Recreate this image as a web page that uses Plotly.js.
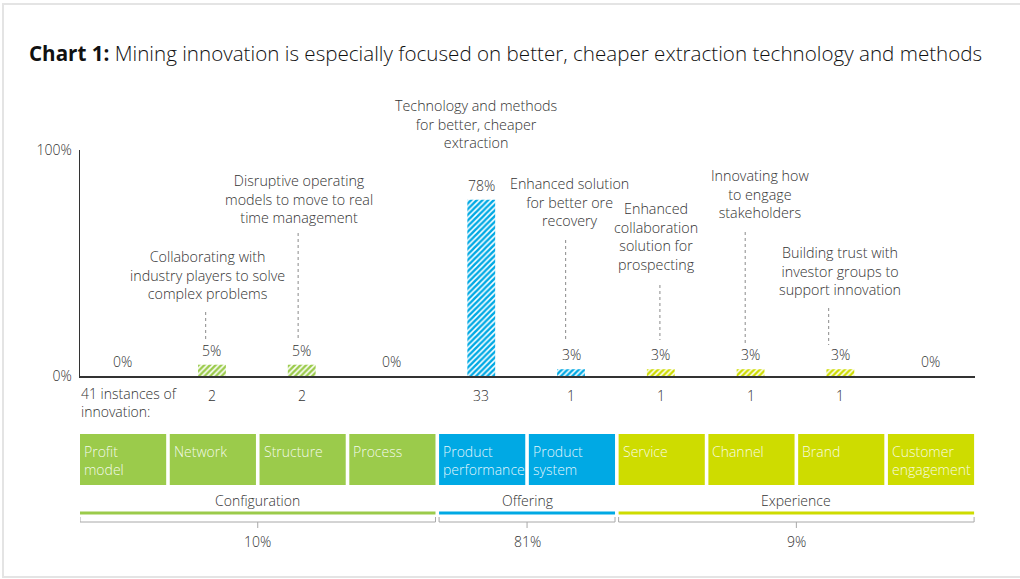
<!DOCTYPE html>
<html>
<head>
<meta charset="utf-8">
<script src="https://cdn.plot.ly/plotly-3.0.1.min.js"></script>
<style>html,body{margin:0;padding:0;background:#fff;}#chart{width:1020px;height:579px;}</style>
</head>
<body>
<div id="chart"></div>
<script>
// ---------- DATA ----------
const categories = ["Profit model","Network","Structure","Process","Product performance","Product system","Service","Channel","Brand","Customer engagement"];
const boxLabels = ["Profit<br>model","Network","Structure","Process","Product<br>performance","Product<br>system","Service","Channel","Brand","Customer<br>engagement"];
const values = [0, 5, 5, 0, 78, 3, 3, 3, 3, 0];
const counts = ["", "2", "2", "", "33", "1", "1", "1", "1", ""];
const groupOf = ["Configuration","Configuration","Configuration","Configuration","Offering","Offering","Experience","Experience","Experience","Experience"];
const groups = ["Configuration","Offering","Experience"];
const groupShares = ["10%","81%","9%"];
const descriptions = [
  "",
  "Collaborating with<br>industry players to solve<br>complex problems",
  "Disruptive operating<br>models to move to real<br>time management",
  "",
  "Technology and methods<br>for better, cheaper<br>extraction",
  "Enhanced solution<br>for better ore<br>recovery",
  "Enhanced<br>collaboration<br>solution for<br>prospecting",
  "Innovating how<br>to engage<br>stakeholders",
  "Building trust with<br>investor groups to<br>support innovation",
  ""
];
const totalLabel = "41 instances of<br>innovation:";

// ---------- STYLE / LAYOUT ----------
const colors = {Configuration:"#9BCB4B", Offering:"#00A9E4", Experience:"#CEDC00"};
const FONT = "Open Sans, sans-serif";
const TXT = "#333333";
const M = {l:80, r:45, t:150, b:203};
const W = 1020 - M.l - M.r, H = 579 - M.t - M.b;
const px = x => (x - M.l) / W;          // pixel -> paper x
const py = y => (579 - M.b - y) / H;    // pixel -> paper y

// description placement: [x offset in category units, top pixel, dotted-line x offset, line top px, line bottom px]
const descPos = {
  1:[-0.05,245,-0.07,312,340],
  2:[-0.03,169,-0.04,233,340],
  4:[-0.06,94,null],
  5:[-0.02,172,-0.06,240,342],
  6:[-0.05,197,-0.01,285,340],
  7:[0.10,164,-0.06,232,344],
  8:[0.00,241,-0.13,308,345]
};

const idx = categories.map((_, i) => i);
const barColors = groupOf.map(g => colors[g]);

const trace = {
  type: "bar",
  x: idx,
  y: values,
  width: 0.31,
  marker: {
    color: barColors,
    line: {width: 0},
    pattern: {shape: "/", fgcolor: barColors, bgcolor: "white", size: 4, solidity: 0.62, fillmode: "replace"}
  },
  hoverinfo: "skip"
};

const annotations = [];
const shapes = [];
const f = (size, color) => ({family:FONT, size:size, color:color || TXT, weight:300});

// title
annotations.push({xref:"paper", yref:"paper", x:px(27), y:py(53), xanchor:"left", yanchor:"middle", showarrow:false,
  text:"<b>Chart 1:</b> Mining innovation is especially focused on better, cheaper extraction technology and methods",
  font:f(20.6, "#111")});

// bar value labels, counts, descriptions
idx.forEach(i => {
  annotations.push({x:i, y:values[i], xref:"x", yref:"y", yanchor:"bottom", yshift:3, showarrow:false,
    text: values[i] + "%", font:f(14)});
  if (counts[i]) annotations.push({x:i, xref:"x", yref:"paper", y:py(395), yanchor:"middle", showarrow:false,
    text: counts[i], font:f(14)});
  if (descriptions[i]) {
    const p = descPos[i];
    annotations.push({x:i + p[0], y:py(p[1]), xref:"x", yref:"paper", yanchor:"top", showarrow:false,
      text: descriptions[i], align:"center", font:f(14.3)});
    if (p[2] !== null) shapes.push({type:"line", xref:"x", yref:"paper", x0:i + p[2], x1:i + p[2], y0:py(p[3]), y1:py(p[4]),
      line:{color:"#8a8a8a", width:1, dash:"dot"}});
  }
  // category boxes
  shapes.push({type:"rect", xref:"x", yref:"paper", x0:i - 0.47, x1:i + 0.49, y0:py(485), y1:py(434),
    fillcolor: colors[groupOf[i]], line:{width:0}, layer:"below"});
  annotations.push({x:i - 0.47, xref:"x", yref:"paper", y:py(440), xanchor:"left", yanchor:"top", xshift:2, showarrow:false,
    align:"left", text: boxLabels[i], font:f(14, "rgba(255,255,255,0.9)")});
});

// total label
annotations.push({xref:"paper", yref:"paper", x:px(79), y:py(382), xanchor:"left", yanchor:"top", align:"left", showarrow:false,
  text: totalLabel, font:f(14)});

// groups
groups.forEach((g, k) => {
  const members = idx.filter(i => groupOf[i] === g);
  const x0 = Math.min(...members) - 0.47, x1 = Math.max(...members) + 0.49;
  const xc = (x0 + x1) / 2;
  annotations.push({x:xc, xref:"x", yref:"paper", y:py(500), yanchor:"middle", showarrow:false,
    text:g, font:f(14)});
  shapes.push({type:"line", xref:"x", yref:"paper", x0:x0, x1:x1, y0:py(513), y1:py(513), line:{color:colors[g], width:3}});
  shapes.push({type:"path", xref:"x", yref:"paper",
    path:`M ${x0} ${py(517)} L ${x0} ${py(522)} L ${x1} ${py(522)} L ${x1} ${py(517)}`,
    line:{color:"#a8a8a8", width:1}});
  shapes.push({type:"line", xref:"x", yref:"paper", x0:xc, x1:xc, y0:py(522), y1:py(528), line:{color:"#a8a8a8", width:1}});
  annotations.push({x:xc, xref:"x", yref:"paper", y:py(541), yanchor:"middle", showarrow:false,
    text:groupShares[k], font:f(14)});
});

// light frame
shapes.push({type:"rect", xref:"paper", yref:"paper", x0:px(3), x1:px(1030), y0:py(577), y1:py(4),
  line:{color:"#e4e4e4", width:2}, layer:"below"});

const layout = {
  width:1020, height:579,
  margin:{l:M.l, r:M.r, t:M.t, b:M.b},
  paper_bgcolor:"#fff", plot_bgcolor:"#fff",
  showlegend:false,
  font:{family:FONT, size:14, color:TXT},
  xaxis:{range:[-0.47, 9.5], showline:true, linecolor:"#333", linewidth:1.5, showticklabels:false, ticks:"", showgrid:false, zeroline:false, fixedrange:true},
  yaxis:{range:[0, 100], showline:true, linecolor:"#333", linewidth:1.5, tickvals:[0,100], ticktext:["0%","100%"], ticks:"", showgrid:false, zeroline:false,
    tickfont:f(14), ticklabelstandoff:4, fixedrange:true},
  annotations: annotations,
  shapes: shapes
};

Plotly.newPlot("chart", [trace], layout, {displayModeBar:false, staticPlot:true});
</script>
</body>
</html>
